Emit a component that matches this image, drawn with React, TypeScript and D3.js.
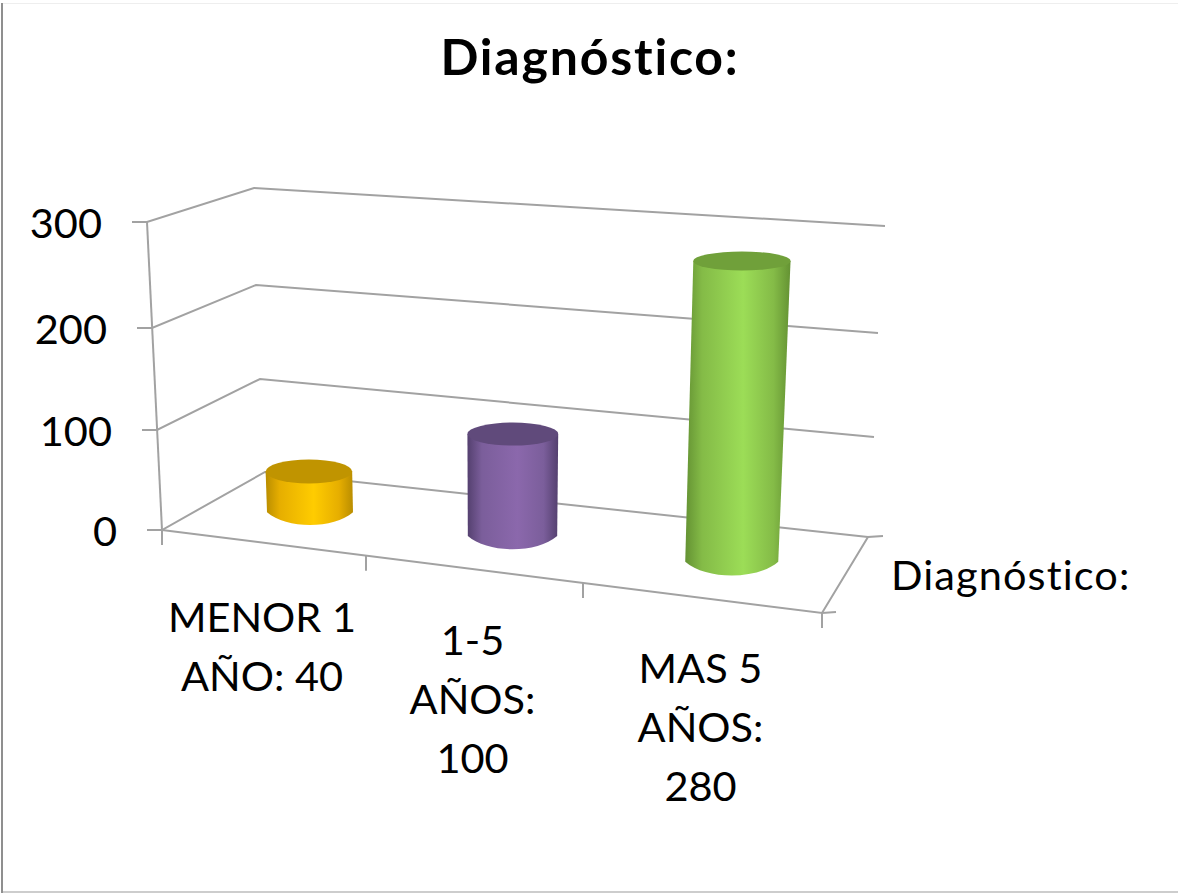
import React from "react";
import * as d3 from "d3";

const chartTitle = "Diagnóstico:";
const seriesName = "Diagnóstico:";
const categories = ["MENOR 1 AÑO", "1-5 AÑOS", "MAS 5 AÑOS"];
const values = [40, 100, 280];
const valueTicks = [0, 100, 200, 300];
const labelLines = [
  ["MENOR 1", "AÑO: 40"],
  ["1-5", "AÑOS:", "100"],
  ["MAS 5", "AÑOS:", "280"],
];
const sideColors = [
  { edge: "#b98d00", mid: "#e6ae00", light: "#ffcc00", top: "#c09400" },
  { edge: "#54406f", mid: "#7b5e9b", light: "#8b68ac", top: "#604a7b" },
  { edge: "#649233", mid: "#84bb47", light: "#9cdd57", top: "#70a03a" },
];

const FONT = "Lato, Carlito, Calibri, sans-serif";
const GRID = "#a2a2a2";
const noLigatures = { fontVariantLigatures: "none" } as const;

// Edges of the 3D box, one scale per vertical corner of the walls.
const frontLeftX = d3.scaleLinear(valueTicks, [162, 157, 152, 147]);
const frontLeftY = d3.scaleLinear(valueTicks, [530, 430, 328, 222]);
const backLeftX = d3.scaleLinear(valueTicks, [265, 260, 256, 254]);
const backLeftY = d3.scaleLinear(valueTicks, [472, 379, 285, 188]);
const backRightX = d3.scaleLinear(valueTicks, [868, 874, 878, 885]);
const backRightY = d3.scaleLinear(valueTicks, [537, 437, 333, 226]);

// Floor: category boundaries along the front and back edges, foreshortened.
const slots = [0, 1, 2, 3];
const frontX = d3.scaleLinear(slots, [162, 366, 583, 822]);
const frontY = d3.scaleLinear([162, 822], [530, 613]);
const backX = d3.scaleLinear(slots, [265, 447, 654, 868]);
const backY = d3.scaleLinear([265, 868], [472, 537]);

// Baselines of the first line of each category label.
const labelY = d3.scaleLinear([0.5, 1.5, 2.5], [632, 654.5, 683]);

// Screen rise of a value above the floor, and sideways lean of the verticals.
const rise = d3.scaleLinear(valueTicks, [0, 102, 210, 323.4]);
const leanPerUnit = d3.scaleLinear([162, 868], [-0.05, 0.057]);
const baseRx = d3.scaleLinear([312, 731], [43, 46.5]);
const ryAtY = d3.scaleLinear([261, 473, 562], [9.5, 12, 13.8]);

const line = d3.line<[number, number]>();

type Cylinder = {
  i: number;
  cx: number;
  baseY: number;
  topCx: number;
  topY: number;
  rxBase: number;
  rxTop: number;
  ryBase: number;
  ryTop: number;
};

const cylinders: Cylinder[] = values.map((v, i) => {
  const fx = frontX(i + 0.5);
  const bx = backX(i + 0.5);
  const cx = (fx + bx) / 2;
  const baseY = (frontY(fx) + backY(bx)) / 2;
  const topCx = cx + leanPerUnit(cx) * v;
  const topY = baseY - rise(v);
  const rxBase = baseRx(cx);
  return {
    i,
    cx,
    baseY,
    topCx,
    topY,
    rxBase,
    rxTop: rxBase + rise(v) * 0.007,
    ryBase: ryAtY(baseY),
    ryTop: ryAtY(topY),
  };
});

function sidePath(c: Cylinder): string {
  const p = d3.path();
  p.moveTo(c.topCx - c.rxTop, c.topY);
  p.lineTo(c.cx - c.rxBase, c.baseY);
  p.bezierCurveTo(
    c.cx - c.rxBase * 0.55, c.baseY + c.ryBase * 1.33,
    c.cx + c.rxBase * 0.55, c.baseY + c.ryBase * 1.33,
    c.cx + c.rxBase, c.baseY
  );
  p.lineTo(c.topCx + c.rxTop, c.topY);
  p.closePath();
  return p.toString();
}

export default function App() {
  return (
    <svg
      width={1178}
      height={893}
      viewBox="0 0 1178 893"
      style={{ position: "absolute", left: 0, top: 0, background: "#fff" }}
      aria-label={`${chartTitle} ${categories.join(", ")}`}
    >
      <defs>
        {sideColors.map((c, i) => (
          <linearGradient key={i} id={`side-${i}`} x1="0" x2="1" y1="0" y2="0">
            <stop offset="0" stopColor={c.edge} />
            <stop offset="0.16" stopColor={c.mid} />
            <stop offset="0.55" stopColor={c.light} />
            <stop offset="0.84" stopColor={c.mid} />
            <stop offset="1" stopColor={c.edge} />
          </linearGradient>
        ))}
      </defs>

      {/* outer frame of the chart area */}
      <g fill="none">
        <path d="M2 3V893" stroke="#8f8f8f" strokeWidth={2} />
        <path d="M3 3.5H1178" stroke="#eeeeee" strokeWidth={1} />
        <path d="M3 892H1178" stroke="#bdbdbd" strokeWidth={1.5} />
      </g>

      <text
        x={590}
        y={75}
        textAnchor="middle"
        fontFamily={FONT}
        fontWeight={700}
        fontSize={50}
        letterSpacing={1.8}
        fill="#000"
        style={noLigatures}
      >
        {chartTitle}
      </text>

      {/* walls, floor and gridlines */}
      <g fill="none" stroke={GRID} strokeWidth={2}>
        {valueTicks.map((t) => (
          <path
            key={t}
            d={
              line([
                [frontLeftX(t) - 15, frontLeftY(t)],
                [frontLeftX(t), frontLeftY(t)],
                [backLeftX(t), backLeftY(t)],
                [backRightX(t), backRightY(t)],
              ]) ?? ""
            }
          />
        ))}
        <path
          d={
            line([
              [frontLeftX(300), frontLeftY(300)],
              [frontLeftX(0), frontLeftY(0)],
            ]) ?? ""
          }
        />
        <path
          d={
            line([
              [backRightX(0) + 15, backRightY(0) - 1],
              [backRightX(0), backRightY(0)],
              [frontX(3), frontY(frontX(3))],
              [frontX(0), frontY(frontX(0))],
            ]) ?? ""
          }
        />
        <path
          d={
            line([
              [frontX(3), frontY(frontX(3))],
              [frontX(3) + 14, frontY(frontX(3)) - 1],
            ]) ?? ""
          }
        />
        {slots.map((s) => (
          <path
            key={s}
            d={
              line([
                [frontX(s), frontY(frontX(s))],
                [frontX(s), frontY(frontX(s)) + 15],
              ]) ?? ""
            }
          />
        ))}
      </g>

      {/* cylinders */}
      {cylinders.map((c) => (
        <g key={c.i}>
          <path d={sidePath(c)} fill={`url(#side-${c.i})`} />
          <ellipse
            cx={c.topCx}
            cy={c.topY}
            rx={c.rxTop}
            ry={c.ryTop}
            fill={sideColors[c.i].top}
          />
        </g>
      ))}

      {/* value axis labels */}
      <g fontFamily={FONT} fontSize={41.5} fill="#000" textAnchor="end">
        {valueTicks.map((t) => (
          <text key={t} x={frontLeftX(t) - 45} y={frontLeftY(t) + 16}>
            {t}
          </text>
        ))}
      </g>

      {/* category labels, each carrying its value */}
      <g fontFamily={FONT} fontSize={41.5} fill="#000" textAnchor="middle">
        {labelLines.map((lines, i) => {
          const x = frontX(i + 0.5) - 2;
          const y0 = labelY(i + 0.5);
          return lines.map((l, j) => (
            <text key={l + j} x={x} y={y0 + j * 59}>
              {l}
            </text>
          ));
        })}
      </g>

      {/* depth axis label */}
      <text
        x={891}
        y={590}
        fontFamily={FONT}
        fontSize={41.5}
        letterSpacing={1.1}
        fill="#000"
        style={noLigatures}
      >
        {seriesName}
      </text>
    </svg>
  );
}
